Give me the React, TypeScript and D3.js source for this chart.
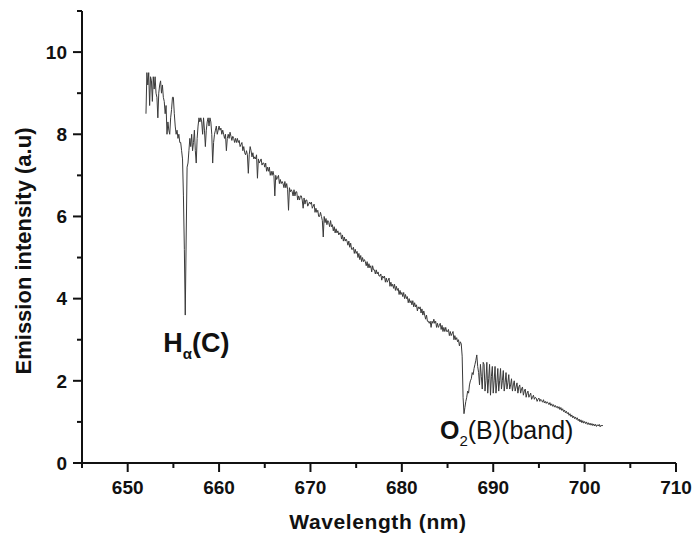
import React from "react";
import * as d3 from "d3";

// Spectrum sampled every 0.1 nm from 652.0 nm to 702.0 nm
const startWavelength = 652.0;
const stepWavelength = 0.1;
const intensity: number[] = [
  // 652
  8.5, 9.5, 9.2, 9.5, 8.7, 9.4, 9.3, 8.8, 9.4, 9.1,
  // 653
  9.4, 9.0, 8.9, 8.4, 9.0, 9.2, 9.3, 9.0, 9.2, 8.9,
  // 654
  8.8, 8.5, 8.7, 8.0, 8.3, 8.1, 8.0, 8.4, 8.6, 8.9,
  // 655
  8.9, 8.5, 8.2, 8.0, 8.1, 7.9, 8.0, 7.8, 7.8, 7.6,
  // 656
  7.4, 6.5, 5.2, 3.6, 5.5, 7.2, 7.3, 7.6, 7.9, 7.7,
  // 657
  8.0, 7.6, 7.8, 8.1, 7.6, 7.3, 7.9, 8.2, 8.4, 8.3,
  // 658
  8.4, 8.3, 8.0, 8.4, 8.1, 7.7, 8.1, 8.3, 8.4, 8.2,
  // 659
  8.4, 8.3, 8.0, 7.3, 7.8, 8.0, 8.1, 8.2, 8.0, 8.1,
  // 660
  8.2, 8.1, 8.15, 8.0, 8.1, 8.0, 7.9, 8.0, 7.6, 7.9,
  // 661
  8.0, 7.9, 8.05, 7.95, 7.85, 7.95, 7.9, 7.8, 7.9, 7.8,
  // 662
  7.9, 7.8, 7.85, 7.7, 7.75, 7.8, 7.6, 7.7, 7.55, 7.5,
  // 663
  7.6, 7.5, 7.05, 7.5, 7.7, 7.6, 7.45, 7.55, 7.4, 7.45,
  // 664
  7.4, 7.5, 6.93, 7.4, 7.3, 7.35, 7.4, 7.25, 7.3, 7.3,
  // 665
  7.2, 7.3, 7.1, 7.2, 7.1, 7.2, 7.0, 7.1, 7.0, 7.1,
  // 666
  7.0, 6.5, 7.0, 6.9, 6.95, 7.0, 6.8, 6.9, 6.8, 6.85,
  // 667
  6.8, 6.7, 6.85, 6.7, 6.8, 6.65, 6.15, 6.7, 6.6, 6.65,
  // 668
  6.6, 6.5, 6.65, 6.5, 6.6, 6.6, 6.4, 6.5, 6.4, 6.5,
  // 669
  6.5, 6.4, 6.2, 6.45, 6.3, 6.4, 6.4, 6.25, 6.3, 6.35,
  // 670
  6.3, 6.35, 6.2, 6.25, 6.3, 6.1, 6.2, 6.1, 6.15, 6.0,
  // 671
  6.0, 6.1, 6.0, 5.9, 5.5, 6.0, 5.85, 5.95, 5.8, 5.9,
  // 672
  5.85, 5.75, 5.9, 5.75, 5.8, 5.65, 5.75, 5.6, 5.7, 5.6,
  // 673
  5.65, 5.55, 5.6, 5.6, 5.45, 5.55, 5.4, 5.5, 5.4, 5.45,
  // 674
  5.4, 5.3, 5.4, 5.25, 5.35, 5.2, 5.2, 5.25, 5.1, 5.2,
  // 675
  5.1, 5.15, 5.0, 5.1, 4.95, 5.05, 4.9, 5.0, 4.9, 4.95,
  // 676
  4.9, 4.8, 4.9, 4.75, 4.85, 4.75, 4.8, 4.65, 4.8, 4.7,
  // 677
  4.7, 4.6, 4.7, 4.6, 4.65, 4.55, 4.55, 4.6, 4.45, 4.55,
  // 678
  4.5, 4.55, 4.4, 4.5, 4.4, 4.45, 4.5, 4.3, 4.4, 4.3,
  // 679
  4.35, 4.25, 4.35, 4.2, 4.3, 4.2, 4.25, 4.1, 4.2, 4.1,
  // 680
  4.15, 4.05, 4.15, 4.0, 4.1, 4.0, 4.05, 3.9, 4.0, 3.9,
  // 681
  3.95, 3.85, 3.95, 3.8, 3.9, 3.8, 3.85, 3.7, 3.8, 3.75,
  // 682
  3.8, 3.65, 3.75, 3.6, 3.7, 3.6, 3.5, 3.6, 3.45, 3.45,
  // 683
  3.4, 3.45, 3.3, 3.45, 3.4, 3.5, 3.4, 3.45, 3.3, 3.4,
  // 684
  3.3, 3.35, 3.4, 3.25, 3.35, 3.2, 3.3, 3.2, 3.3, 3.2,
  // 685
  3.2, 3.25, 3.1, 3.2, 3.1, 3.15, 3.2, 3.0, 3.1, 3.0,
  // 686
  3.05, 2.95, 3.0, 2.85, 2.95, 2.9, 2.6, 1.6, 1.2, 1.35,
  // 687
  1.5, 1.6, 1.75, 1.7, 1.9, 2.0, 2.05, 2.2, 2.15, 2.3,
  // 688
  2.4, 2.5, 2.63, 2.35, 2.2, 1.9, 2.4, 2.1, 1.8, 2.45,
  // 689
  2.4, 1.75, 2.0, 2.45, 1.7, 2.05, 2.4, 1.65, 2.1, 2.35,
  // 690
  1.7, 2.0, 2.35, 1.7, 1.95, 2.3, 1.75, 2.0, 2.3, 1.8,
  // 691
  2.0, 2.25, 1.75, 1.95, 2.2, 1.8, 1.95, 2.15, 1.8, 1.9,
  // 692
  2.05, 1.75, 1.9, 2.0, 1.75, 1.85, 1.95, 1.7, 1.85, 1.9,
  // 693
  1.7, 1.8, 1.85, 1.65, 1.75, 1.8, 1.6, 1.7, 1.75, 1.6,
  // 694
  1.65, 1.7, 1.55, 1.6, 1.65, 1.55, 1.6, 1.58, 1.5, 1.55,
  // 695
  1.58, 1.5, 1.55, 1.52, 1.48, 1.54, 1.46, 1.5, 1.45, 1.49,
  // 696
  1.46, 1.42, 1.47, 1.4, 1.44, 1.38, 1.42, 1.36, 1.4, 1.35,
  // 697
  1.38, 1.33, 1.37, 1.3, 1.35, 1.28, 1.32, 1.25, 1.29, 1.22,
  // 698
  1.26, 1.2, 1.23, 1.16, 1.2, 1.13, 1.17, 1.1, 1.14, 1.08,
  // 699
  1.12, 1.06, 1.1, 1.03, 1.07, 1.0, 1.05, 0.98, 1.03, 0.97,
  // 700
  1.01, 0.96, 1.0, 0.94, 0.98, 0.93, 0.97, 0.92, 0.96, 0.91,
  // 701
  0.95, 0.9, 0.94, 0.89, 0.93, 0.9, 0.94, 0.88, 0.92, 0.9,
  // 702
  0.92,
];

const xMajorTicks = [650, 660, 670, 680, 690, 700, 710];
const xMinorTicks = [645, 655, 665, 675, 685, 695, 705];
const yMajorTicks = [0, 2, 4, 6, 8, 10];
const yMinorTicks = [1, 3, 5, 7, 9, 11];

const annotations = [
  { label: "Hα(C)", wavelength: 656.3, value: 3.6 },
  { label: "O2(B)(band)", wavelength: 686.8, value: 1.2 },
];

const W = 693;
const H = 540;
const FONT = "'Liberation Sans', Arial, Helvetica, sans-serif";

export default function App() {
  const x = d3.scaleLinear().domain([645, 710]).range([82, 676]);
  const y = d3.scaleLinear().domain([0, 11]).range([463, 11]);

  const pts: [number, number][] = intensity.map((v, i) => [
    startWavelength + i * stepWavelength,
    v,
  ]);
  const line = d3
    .line<[number, number]>()
    .x((d) => x(d[0]))
    .y((d) => y(d[1]));

  const ha = annotations[0];
  const o2 = annotations[1];

  return (
    <svg
      width={W}
      height={H}
      style={{ position: "absolute", left: 0, top: 0, background: "#fff" }}
      fontFamily={FONT}
    >
      <rect x={0} y={0} width={W} height={H} fill="#fff" />
      <path d={line(pts) || ""} fill="none" stroke="#3a3a3a" strokeWidth={1} />

      {/* Y axis */}
      <line x1={82} x2={82} y1={y(11)} y2={y(0) + 1} stroke="#111" strokeWidth={2} />
      {yMajorTicks.map((t) => (
        <g key={"ym" + t}>
          <line x1={73} x2={82} y1={y(t)} y2={y(t)} stroke="#111" strokeWidth={2} />
          <text
            x={67}
            y={y(t)}
            dy="0.36em"
            textAnchor="end"
            fontSize={19}
            fontWeight="bold"
            fill="#111"
          >
            {t}
          </text>
        </g>
      ))}
      {yMinorTicks.map((t) => (
        <line key={"yn" + t} x1={77} x2={82} y1={y(t)} y2={y(t)} stroke="#111" strokeWidth={2} />
      ))}

      {/* X axis */}
      <line x1={81} x2={x(710)} y1={463} y2={463} stroke="#111" strokeWidth={2} />
      {xMajorTicks.map((t) => (
        <g key={"xm" + t}>
          <line x1={x(t)} x2={x(t)} y1={463} y2={472} stroke="#111" strokeWidth={2} />
          <text
            x={x(t)}
            y={494}
            textAnchor="middle"
            fontSize={19}
            fontWeight="bold"
            fill="#111"
          >
            {t}
          </text>
        </g>
      ))}
      {xMinorTicks.map((t) => (
        <line key={"xn" + t} x1={x(t)} x2={x(t)} y1={463} y2={468} stroke="#111" strokeWidth={2} />
      ))}

      {/* Axis titles */}
      <text
        x={378}
        y={529}
        textAnchor="middle"
        fontSize={21}
        fontWeight="bold"
        letterSpacing={0.6}
        fill="#111"
      >
        Wavelength (nm)
      </text>
      <text
        transform={`translate(31,251) rotate(-90)`}
        textAnchor="middle"
        fontSize={22}
        fontWeight="bold"
        fill="#111"
      >
        Emission intensity (a.u)
      </text>

      {/* Annotations */}
      <text x={x(ha.wavelength) - 22} y={y(ha.value) + 37} fontSize={27} fontWeight="bold" fill="#111">
        H
        <tspan fontSize={15} dy={7}>α</tspan>
        <tspan dy={-7}>(C)</tspan>
      </text>
      <text x={x(o2.wavelength) - 24} y={y(o2.value) + 25} fontSize={25} fill="#111">
        <tspan fontWeight="bold">O</tspan>
        <tspan fontSize={15} dy={7}>2</tspan>
        <tspan dy={-7}>(B)(band)</tspan>
      </text>
    </svg>
  );
}
